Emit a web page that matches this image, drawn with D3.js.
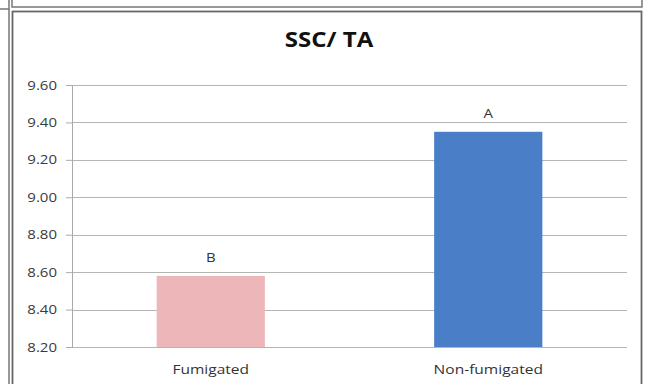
<!DOCTYPE html>
<meta charset="utf-8">
<style>
body { margin: 0; background: #fff; }
svg { display: block; }
</style>
<svg width="646" height="384"></svg>
<script src="https://d3js.org/d3.v7.min.js"></script>
<script>

// data
var categories = ["Fumigated", "Non-fumigated"];
var values = [8.58, 9.35];
var letters = ["B", "A"];
var yTicks = [8.2, 8.4, 8.6, 8.8, 9.0, 9.2, 9.4, 9.6];
var colors = ["#edb7ba", "#4a7fc7"];

var svg = d3.select("svg");
var font = "Open Sans, sans-serif";

// frame of the chart above (cut off) and of this chart
svg.append("rect").attr("x", -20).attr("y", -20).attr("width", 29).attr("height", 29)
  .attr("fill", "none").attr("stroke", "#777").attr("stroke-width", 1.5);
svg.append("rect").attr("x", 12).attr("y", -20).attr("width", 630).attr("height", 27)
  .attr("fill", "none").attr("stroke", "#777").attr("stroke-width", 1.5);
svg.append("line").attr("x1", 9).attr("x2", 9).attr("y1", 9).attr("y2", 384)
  .attr("stroke", "#777").attr("stroke-width", 1.5);
svg.append("rect").attr("x", 12.5).attr("y", 11.5).attr("width", 629).attr("height", 400)
  .attr("fill", "none").attr("stroke", "#666").attr("stroke-width", 1.8);

var mLeft = 72, mRight = 627, mTop = 85, mBottom = 347;

var x = d3.scaleBand().domain(categories).range([mLeft, mRight]);
var y = d3.scaleLinear().domain([8.2, 9.6]).range([mBottom, mTop]);

// gridlines
svg.append("g").selectAll("line").data(yTicks).join("line")
  .attr("x1", mLeft).attr("x2", mRight)
  .attr("y1", d => Math.round(y(d)) + 0.5).attr("y2", d => Math.round(y(d)) + 0.5)
  .attr("stroke", "#b5b5b5").attr("stroke-width", 1.2);

// y axis
var yAxis = d3.axisLeft(y).tickValues(yTicks).tickSize(6).tickFormat("");
var gy = svg.append("g").attr("transform", "translate(" + mLeft + ",0)").call(yAxis);
gy.select(".domain").attr("stroke", "#aaa");
gy.selectAll(".tick line").attr("stroke", "#aaa");

// tick labels, stretched a little sideways like the picture
svg.append("g").selectAll("text").data(yTicks).join("text")
  .attr("transform", d => "translate(57," + (y(d) + 4.5) + ") scale(1.2,1)")
  .attr("text-anchor", "end")
  .attr("font-family", font).attr("font-size", 12.5).attr("fill", "#3a3a3a")
  .text(d3.format(".2f"));

// bars
var bw = x.bandwidth() * 0.39;
svg.append("g").selectAll("rect").data(values).join("rect")
  .attr("x", (d, i) => x(categories[i]) + x.bandwidth() / 2 - bw / 2)
  .attr("y", d => y(d))
  .attr("width", bw)
  .attr("height", d => mBottom - y(d))
  .attr("fill", (d, i) => colors[i]);

// significance letters
svg.append("g").selectAll("text").data(values).join("text")
  .attr("transform", (d, i) => "translate(" + (x(categories[i]) + x.bandwidth() / 2) + "," + (y(d) - 14) + ") scale(1.2,1)")
  .attr("text-anchor", "middle")
  .attr("font-family", font).attr("font-size", 12.5).attr("fill", "#333")
  .text((d, i) => letters[i]);

// category labels
svg.append("g").selectAll("text").data(categories).join("text")
  .attr("transform", d => "translate(" + (x(d) + x.bandwidth() / 2) + ",374) scale(1.15,1)")
  .attr("text-anchor", "middle")
  .attr("font-family", font).attr("font-size", 13.5).attr("fill", "#333")
  .text(d => d);

// title
svg.append("text").attr("transform", "translate(329,47) scale(1.12,1)")
  .attr("text-anchor", "middle")
  .attr("font-family", font)
  .attr("font-weight", "bold").attr("font-size", 21.5).attr("fill", "#111")
  .text("SSC/ TA");

</script>
